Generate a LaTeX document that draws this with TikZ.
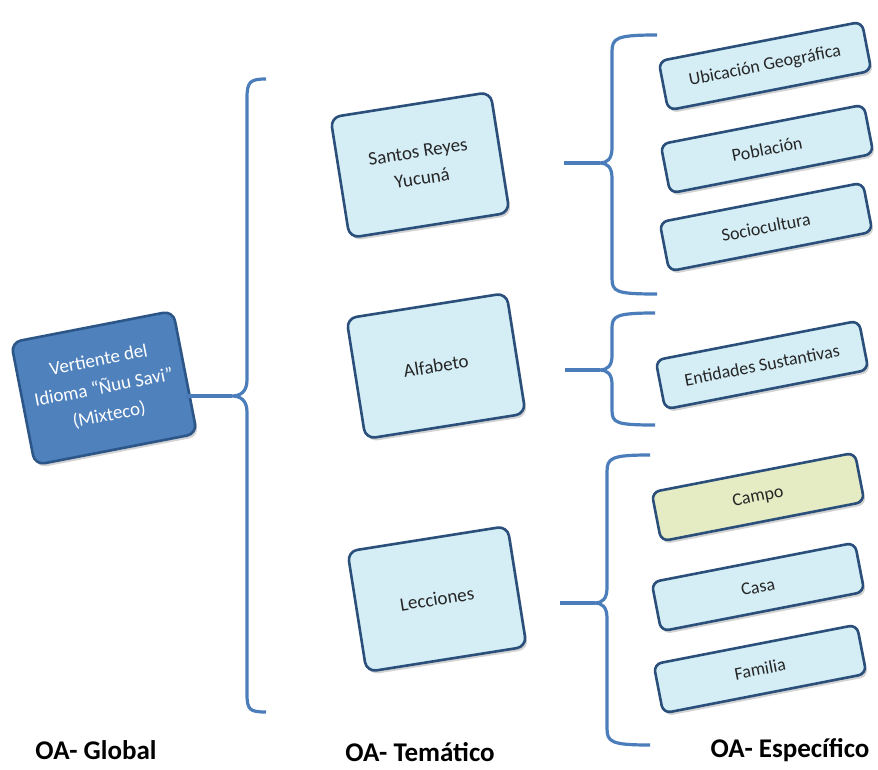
\documentclass[tikz,border=0pt]{standalone}
\usepackage{fontspec}
\setmainfont{Carlito}
\usetikzlibrary{shadows,calc}
\definecolor{globalfill}{HTML}{4F81BD}
\definecolor{globaledge}{HTML}{2C5687}
\definecolor{topicfill}{HTML}{D5EEF6}
\definecolor{topicedge}{HTML}{2A4F7A}
\definecolor{campofill}{HTML}{E5EBC3}
\definecolor{bracecol}{HTML}{4A7DBA}
\begin{document}
\begin{tikzpicture}[
    x=1pt, y=-1pt,
    box/.style={rounded corners=10pt, line width=2.6pt, draw=topicedge, fill=topicfill,
        align=center, text=black!85, font=\fontsize{18}{24}\selectfont,
        drop shadow={shadow xshift=2pt, shadow yshift=-3pt, opacity=0.35}},
    global/.style={box, fill=globalfill, draw=globaledge, text=white,
        font=\fontsize{19}{28}\selectfont, minimum width=165pt, minimum height=125pt, rotate=11},
    topic/.style={box, font=\fontsize{19}{27}\selectfont, minimum width=162pt, minimum height=122pt, rotate=9},
    detail/.style={box, rounded corners=8pt, minimum width=207pt, minimum height=50pt, rotate=11},
    brace/.style={line width=3.2pt, draw=bracecol},
    level/.style={font=\bfseries\fontsize{27}{30}\selectfont}
]
    \useasboundingbox (0,0) rectangle (878,770);

    % Global
    \node[global] (vert) at (104,388) {Vertiente del\\Idioma “Ñuu Savi”\\(Mixteco)};

    % Tematico
    \node[topic] (santos) at (420,165) {Santos Reyes\\Yucuná};
    \node[topic] (alfa) at (436,366) {Alfabeto};
    \node[topic] (lecc) at (437,599) {Lecciones};

    % Especifico
    \node[detail] (ubic) at (765,66) {Ubicación Geográfica};
    \node[detail] (pobl) at (767,149) {Población};
    \node[detail] (socio) at (766,227) {Sociocultura};
    \node[detail] (enti) at (762,365) {Entidades Sustantivas};
    \node[detail, fill=campofill] (campo) at (758,497) {Campo};
    \node[detail] (casa) at (758,587) {Casa};
    \node[detail] (fam) at (760,669) {Familia};

    % Braces
    \coordinate (g0) at (232,396);
    \draw[brace] (266,79) .. controls (250,79) and (247,82) .. (247,98) -- (247,380)
        .. controls (247,392) and (240,396) .. (g0)
        .. controls (240,396) and (247,400) .. (247,412) -- (247,694)
        .. controls (247,710) and (250,712) .. (266,712);
    \draw[brace] (vert.east |- g0) -- (g0);

    \coordinate (s0) at (600,163);
    \draw[brace] (657,35) .. controls (616,35) and (612,38) .. (612,52) -- (612,148)
        .. controls (612,159) and (607,163) .. (s0)
        .. controls (607,163) and (612,167) .. (612,178) -- (612,278)
        .. controls (612,292) and (616,294) .. (657,294);
    \draw[brace] ($(santos.east |- s0)+(63,0)$) -- (s0);

    \coordinate (a0) at (600,370);
    \draw[brace] (655,313) .. controls (616,313) and (612,316) .. (612,328) -- (612,356)
        .. controls (612,366) and (607,370) .. (a0)
        .. controls (607,370) and (612,374) .. (612,384) -- (612,410)
        .. controls (612,423) and (616,425) .. (655,425);
    \draw[brace] ($(alfa.east |- a0)+(48,0)$) -- (a0);

    \coordinate (l0) at (595,603);
    \draw[brace] (650,455) .. controls (611,455) and (607,458) .. (607,472) -- (607,588)
        .. controls (607,599) and (602,603) .. (l0)
        .. controls (602,603) and (607,607) .. (607,618) -- (607,728)
        .. controls (607,742) and (611,745) .. (650,745);
    \draw[brace] ($(lecc.east |- l0)+(42,0)$) -- (l0);

    % Levels
    \node[level] (lglobal) at (96,750) {OA- Global};
    \node[level] (ltema) at (420,752) {OA- Temático};
    \node[level] (lespec) at (790,750) {OA- Específico};
\end{tikzpicture}
\end{document}
